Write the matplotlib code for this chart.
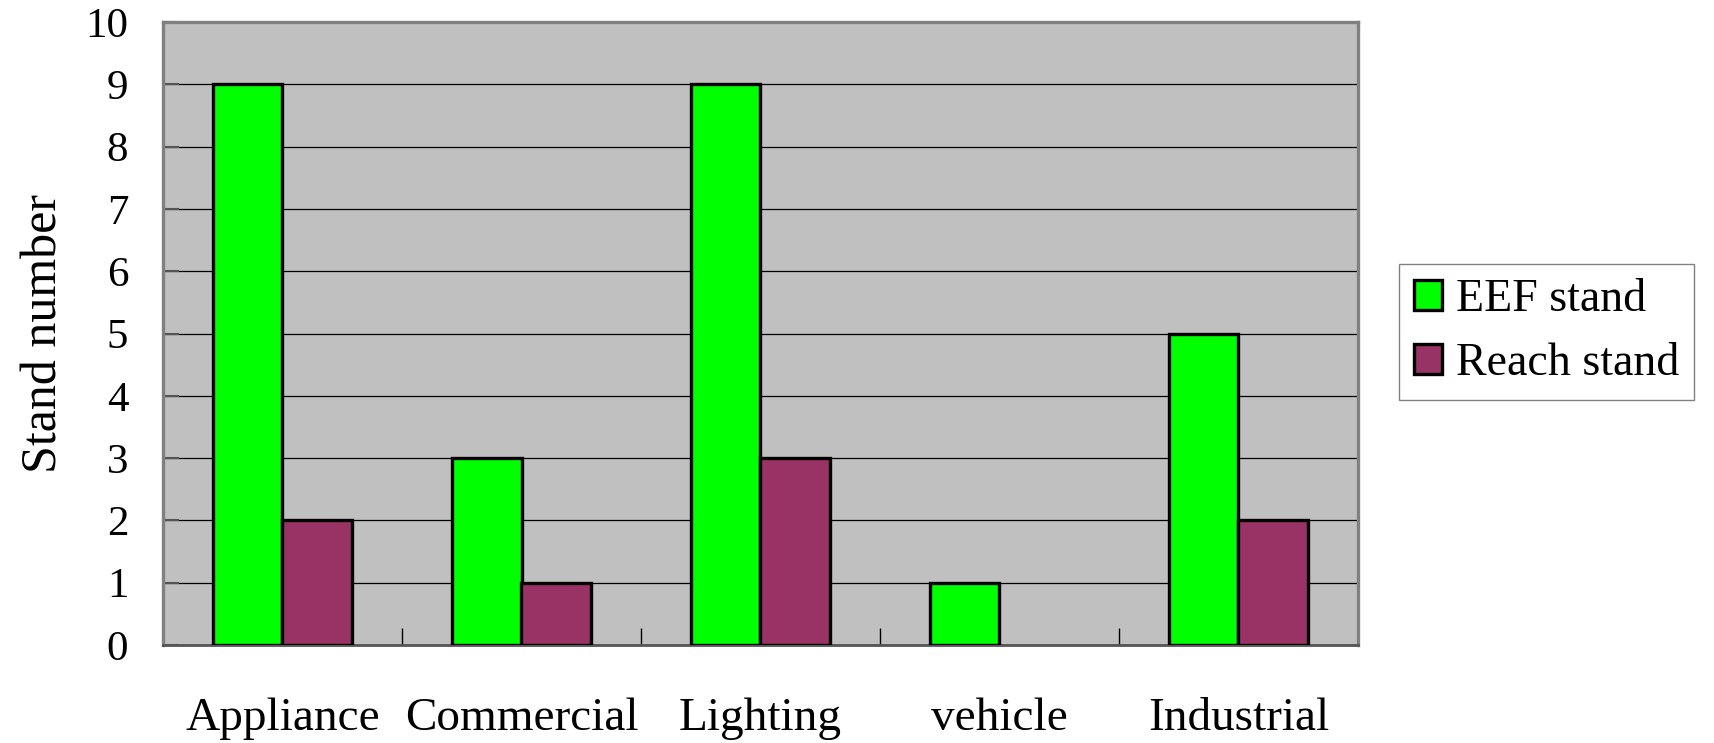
import numpy as np
import matplotlib
matplotlib.use("Agg")
import matplotlib.pyplot as plt

categories = ["Appliance", "Commercial", "Lighting", "vehicle", "Industrial"]
eef_stand = [9, 3, 9, 1, 5]
reach_stand = [2, 1, 3, 0, 2]
series_names = ["EEF stand", "Reach stand"]
y_ticks = [0, 1, 2, 3, 4, 5, 6, 7, 8, 9, 10]

FONT = ["Liberation Serif", "DejaVu Serif"]
plt.rcParams["font.family"] = FONT

fig = plt.figure(figsize=(17.15, 7.43), dpi=100)
ax = fig.add_axes([163/1715, 1-645/743, (1358-163)/1715, (645-22)/743])
ax.set_facecolor("#C0C0C0")

x = np.arange(len(categories))
w = 0.29
b1 = ax.bar(x - w/2, eef_stand, w, color="#00FF00", edgecolor="black", linewidth=2.4, zorder=3, label=series_names[0])
b2 = ax.bar(x + w/2, reach_stand, w, color="#993366", edgecolor="black", linewidth=2.4, zorder=3, label=series_names[1])
for p in list(b1) + list(b2):
    if p.get_height() == 0:
        p.set_visible(False)

ax.set_xlim(-0.5, len(categories) - 0.5)
ax.set_ylim(0, 10)
ax.set_yticks(y_ticks)
ax.set_yticklabels([str(v) for v in y_ticks], fontsize=31)
ax.yaxis.grid(True, color="black", linewidth=0.9, zorder=1)
ax.set_axisbelow(True)

ax.set_xticks(x)
ax.set_xticklabels(categories, fontsize=34)
ax.set_xticks(np.arange(-0.5, len(categories)), minor=True)
ax.tick_params(axis="x", which="major", length=0, pad=38)
ax.tick_params(axis="x", which="minor", direction="in", length=12, width=1, color="black")
ax.tick_params(axis="y", which="major", direction="in", length=11.5, width=1.5, color="#555555", pad=25)

for s in ["left", "top", "right"]:
    ax.spines[s].set_color("#808080")
    ax.spines[s].set_linewidth(2.4)
ax.spines["bottom"].set_color("#555555")
ax.spines["bottom"].set_linewidth(2)

ax.set_ylabel("Stand number", fontsize=36, labelpad=13)

leg = fig.legend(handles=[b1, b2], labels=series_names, loc="upper left",
                 bbox_to_anchor=(1399/1715, 1-264/743), fontsize=33,
                 frameon=True, fancybox=False, edgecolor="#808080", framealpha=1,
                 handlelength=0.62, handleheight=0.65, handletextpad=0.3,
                 labelspacing=0.47, borderpad=0.32, borderaxespad=0)
leg.get_frame().set_linewidth(1)

fig.savefig("out.png", dpi=100)
